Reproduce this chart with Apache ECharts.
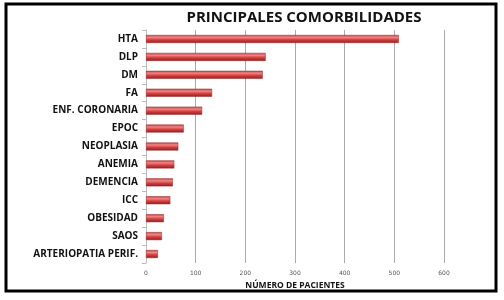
<!DOCTYPE html>
<html>
<head>
<meta charset="utf-8">
<script src="https://cdn.jsdelivr.net/npm/echarts@6/dist/echarts.min.js"></script>
<style>
html, body { margin: 0; padding: 0; background: #fff; }
#chart { width: 504px; height: 300px; }
</style>
</head>
<body>
<div id="chart"></div>
<script>
// categories listed top to bottom as in the picture
var categories = ["HTA", "DLP", "DM", "FA", "ENF. CORONARIA", "EPOC", "NEOPLASIA", "ANEMIA",
    "DEMENCIA", "ICC", "OBESIDAD", "SAOS", "ARTERIOPATIA PERIF."];
var pacientes = [509, 241, 235, 133, 113, 76, 65, 57, 54, 49, 36, 32, 24];
var xTicks = [0, 100, 200, 300, 400, 500, 600];

var chart = echarts.init(document.getElementById("chart"));
var option = {
    animation: false,
    title: {
        text: "PRINCIPALES COMORBILIDADES",
        left: 299, top: 5, textAlign: "center",
        textStyle: { fontFamily: "Open Sans", fontWeight: "bold", fontSize: 15, color: "#111" }
    },
    graphic: [{
        type: "rect",
        shape: { x: 6, y: 4, width: 490, height: 287 },
        style: { fill: "none", stroke: "#000", lineWidth: 3 },
        shadowBlur: 3, shadowColor: "rgba(0,0,0,0.4)"
    }],
    grid: { left: 146, right: 60, top: 30, bottom: 37 },
    xAxis: {
        type: "value", min: 0, max: 600, interval: 100,
        name: "NÚMERO DE PACIENTES", nameLocation: "middle", nameGap: 18,
        nameTextStyle: { fontFamily: "Open Sans", fontWeight: "bold", fontSize: 8.5, color: "#111" },
        axisLine: { show: false },
        axisTick: { show: false },
        axisLabel: {
            fontSize: 6, color: "#555", margin: 7, fontFamily: "DejaVu Sans",
            formatter: function (v) { return xTicks.indexOf(v) >= 0 ? String(v) : ""; }
        },
        splitLine: { show: true, lineStyle: { color: "#aaa", width: 1 } }
    },
    yAxis: {
        type: "category", data: categories, inverse: true,
        axisLine: { show: true, lineStyle: { color: "#bbb" } },
        axisTick: { show: true, length: 4, lineStyle: { color: "#bbb" } },
        axisLabel: { fontFamily: "Open Sans", fontWeight: "bold", fontSize: 10, color: "#111", margin: 8 }
    },
    series: [{
        type: "bar", data: pacientes, barWidth: 8,
        itemStyle: {
            color: new echarts.graphic.LinearGradient(0, 0, 0, 1, [
                { offset: 0, color: "#c04040" },
                { offset: 0.3, color: "#f08585" },
                { offset: 0.6, color: "#d63e3e" },
                { offset: 1, color: "#8e1e1e" }
            ]),
            borderColor: "#9a2a2a", borderWidth: 0.5
        }
    }]
};
chart.setOption(option);
</script>
</body>
</html>
